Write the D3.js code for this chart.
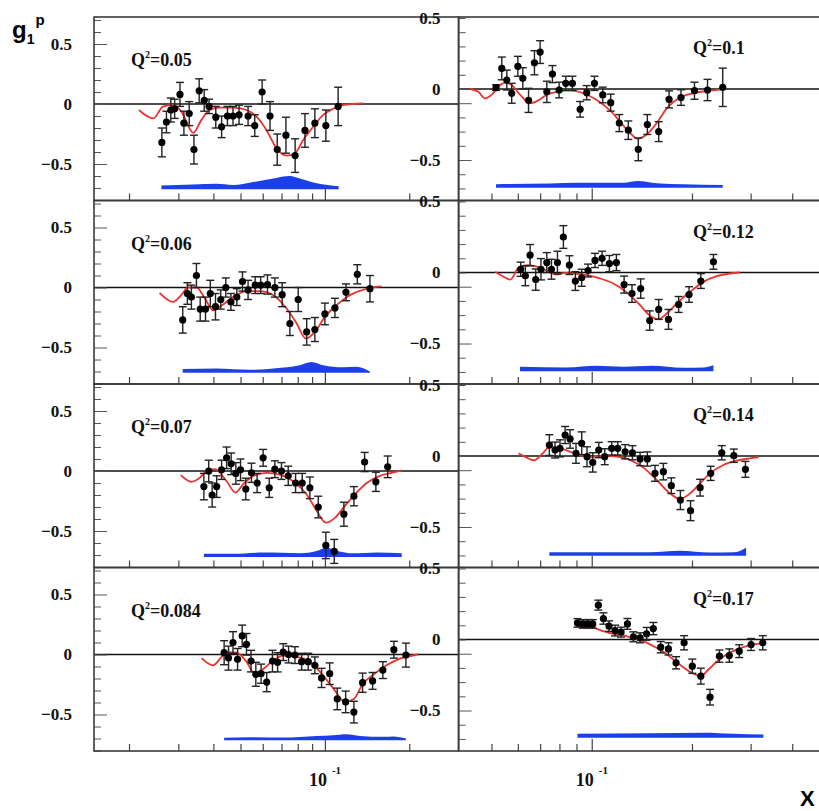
<!DOCTYPE html>
<html>
<head>
<meta charset="utf-8">
<script src="https://cdn.jsdelivr.net/npm/d3@7"></script>
<style>
  body { margin: 0; background: #fff; }
  svg text { font-family: "Liberation Serif", "Times New Roman", serif; font-weight: bold; }
  svg text.sans { font-family: "Liberation Sans", Arial, sans-serif; }
</style>
</head>
<body>
<svg id="chart" width="819" height="811"></svg>
<script>
// Q^2 of each panel, row by row (left, right)
let q2Labels = ["0.05", "0.1", "0.06", "0.12", "0.07", "0.14", "0.084", "0.17"];

// data points: [x, g1p, stat error]
let data005 = [[0.0262,-0.32,0.12],[0.0272,-0.15,0.09],[0.0282,-0.05,0.10],[0.0291,-0.04,0.08],[0.0304,0.08,0.10],[0.0314,-0.16,0.10],[0.0328,-0.08,0.10],[0.0341,-0.38,0.12],[0.0356,0.11,0.10],[0.0371,0.03,0.09],[0.0386,-0.02,0.06],[0.0408,-0.11,0.09],[0.0428,-0.19,0.09],[0.0449,-0.10,0.08],[0.0470,-0.10,0.08],[0.0494,-0.09,0.08],[0.0532,-0.10,0.08],[0.0562,-0.18,0.09],[0.0597,0.10,0.10],[0.0637,-0.10,0.12],[0.0676,-0.38,0.13],[0.0726,-0.26,0.15],[0.0783,-0.43,0.14],[0.0849,-0.22,0.14],[0.0921,-0.16,0.12],[0.1008,-0.18,0.13],[0.1115,-0.02,0.16]];
let data01 = [[0.0516,0.01,0.02],[0.0537,0.145,0.08],[0.0556,0.063,0.07],[0.0575,-0.03,0.07],[0.0600,0.16,0.07],[0.0621,0.075,0.075],[0.0646,-0.08,0.085],[0.0673,0.185,0.085],[0.0700,0.26,0.08],[0.0733,-0.02,0.075],[0.0762,0.105,0.06],[0.0798,-0.007,0.055],[0.0836,0.04,0.05],[0.0875,0.04,0.05],[0.0923,-0.143,0.055],[0.0966,-0.026,0.05],[0.1019,0.04,0.05],[0.1079,-0.042,0.055],[0.1140,-0.096,0.06],[0.1210,-0.24,0.06],[0.1288,-0.29,0.065],[0.1380,-0.425,0.08],[0.1469,-0.25,0.07],[0.1589,-0.30,0.07],[0.1707,-0.073,0.06],[0.1854,-0.06,0.055],[0.2035,-0.012,0.06],[0.2227,-0.007,0.075],[0.2474,0.012,0.135]];
let data006 = [[0.0311,-0.27,0.11],[0.0323,-0.05,0.09],[0.0334,-0.08,0.10],[0.0348,0.10,0.10],[0.0359,-0.18,0.10],[0.0375,-0.18,0.10],[0.0390,-0.05,0.11],[0.0407,-0.16,0.11],[0.0425,-0.10,0.08],[0.0443,0.0,0.08],[0.0462,-0.12,0.07],[0.0485,-0.08,0.07],[0.0508,0.05,0.08],[0.0532,-0.02,0.08],[0.0564,0.02,0.07],[0.0590,0.02,0.07],[0.0624,0.025,0.08],[0.0663,0.0,0.08],[0.0704,-0.06,0.10],[0.0750,-0.30,0.10],[0.0803,-0.10,0.10],[0.0861,-0.37,0.11],[0.0921,-0.35,0.10],[0.1000,-0.22,0.09],[0.1086,-0.17,0.08],[0.1189,-0.04,0.07],[0.1305,0.11,0.08],[0.1448,-0.01,0.11]];
let data012 = [[0.0612,0.023,0.05],[0.0632,-0.023,0.07],[0.0653,0.122,0.075],[0.0679,-0.05,0.075],[0.0704,0.023,0.075],[0.0733,0.07,0.07],[0.0757,0.023,0.07],[0.0789,0.07,0.08],[0.0822,0.25,0.08],[0.0857,0.052,0.066],[0.0893,-0.06,0.066],[0.0933,-0.037,0.06],[0.0975,0.014,0.045],[0.1023,0.085,0.05],[0.1074,0.10,0.05],[0.1130,0.063,0.057],[0.1186,0.07,0.057],[0.1251,-0.085,0.06],[0.1321,-0.148,0.062],[0.1403,-0.113,0.068],[0.1493,-0.338,0.068],[0.1589,-0.26,0.07],[0.1700,-0.33,0.07],[0.1824,-0.225,0.056],[0.1960,-0.155,0.055],[0.2126,-0.06,0.052],[0.2320,0.075,0.052]];
let data007 = [[0.0370,-0.13,0.11],[0.0385,0.0,0.09],[0.0396,-0.20,0.10],[0.0411,-0.13,0.09],[0.0428,0.01,0.08],[0.0446,0.11,0.09],[0.0463,0.06,0.09],[0.0481,-0.02,0.09],[0.0500,0.01,0.09],[0.0522,-0.15,0.09],[0.0547,-0.015,0.08],[0.0573,-0.10,0.08],[0.0602,0.11,0.07],[0.0633,-0.14,0.08],[0.0663,0.015,0.07],[0.0700,0.0,0.07],[0.0740,-0.04,0.08],[0.0786,-0.10,0.08],[0.0830,-0.10,0.08],[0.0884,-0.14,0.09],[0.0947,-0.30,0.09],[0.1008,-0.62,0.11],[0.1080,-0.67,0.10],[0.1169,-0.36,0.10],[0.1269,-0.21,0.08],[0.1386,0.075,0.08],[0.1520,-0.09,0.08],[0.1675,0.035,0.09]];
let data014 = [[0.0746,0.077,0.073],[0.0776,0.042,0.056],[0.0803,0.054,0.06],[0.0832,0.148,0.06],[0.0861,0.12,0.065],[0.0897,0.019,0.07],[0.0933,0.09,0.08],[0.0968,-0.005,0.07],[0.1007,-0.045,0.068],[0.1050,0.042,0.054],[0.1094,-0.005,0.056],[0.1148,0.054,0.047],[0.1197,0.054,0.047],[0.1260,0.03,0.05],[0.1325,0.023,0.05],[0.1397,-0.021,0.047],[0.1469,-0.021,0.05],[0.1549,-0.122,0.056],[0.1641,-0.11,0.058],[0.1734,-0.209,0.055],[0.1846,-0.31,0.067],[0.1980,-0.385,0.07],[0.2116,-0.223,0.059],[0.2276,-0.122,0.05],[0.2457,0.023,0.05],[0.2671,0.002,0.047],[0.2894,-0.094,0.056]];
let data0084 = [[0.0437,0.015,0.10],[0.0453,-0.03,0.10],[0.0470,0.10,0.09],[0.0488,-0.04,0.09],[0.0507,0.155,0.09],[0.0525,0.085,0.09],[0.0545,-0.055,0.09],[0.0567,-0.165,0.10],[0.0592,-0.16,0.08],[0.0620,-0.23,0.08],[0.0650,-0.055,0.09],[0.0678,-0.065,0.08],[0.0710,0.02,0.07],[0.0742,0.0,0.07],[0.0782,-0.005,0.07],[0.0826,-0.06,0.07],[0.0872,-0.06,0.07],[0.0921,-0.09,0.07],[0.0973,-0.195,0.08],[0.1040,-0.16,0.09],[0.1107,-0.37,0.09],[0.1186,-0.395,0.09],[0.1269,-0.48,0.09],[0.1363,-0.235,0.08],[0.1480,-0.22,0.07],[0.1610,-0.13,0.07],[0.1763,0.04,0.07],[0.1946,-0.005,0.10]];
let data017 = [[0.0906,0.117,0.03],[0.0940,0.11,0.03],[0.0973,0.11,0.03],[0.1007,0.11,0.03],[0.1047,0.242,0.035],[0.1084,0.148,0.04],[0.1127,0.094,0.037],[0.1175,0.063,0.038],[0.1225,0.052,0.035],[0.1280,0.11,0.038],[0.1334,0.019,0.035],[0.1397,0.012,0.035],[0.1462,0.04,0.045],[0.1531,0.077,0.043],[0.1611,-0.054,0.04],[0.1700,-0.066,0.043],[0.1792,-0.164,0.043],[0.1894,-0.023,0.05],[0.2005,-0.188,0.05],[0.2126,-0.258,0.056],[0.2266,-0.406,0.055],[0.2418,-0.117,0.043],[0.2589,-0.113,0.047],[0.2773,-0.082,0.045],[0.3010,-0.035,0.042],[0.3263,-0.023,0.05]];

// model curves (red): [x, g1p]
let model005 = [[0.0217,-0.05],[0.0244,-0.12],[0.0265,-0.02],[0.0287,-0.01],[0.0308,-0.065],[0.0339,-0.24],[0.0363,-0.13],[0.0388,-0.05],[0.0422,-0.03],[0.047,-0.03],[0.0525,-0.05],[0.057,-0.105],[0.062,-0.22],[0.0672,-0.37],[0.073,-0.43],[0.0782,-0.41],[0.0837,-0.30],[0.0908,-0.19],[0.0986,-0.09],[0.107,-0.04],[0.116,-0.01],[0.126,0.0],[0.137,0.005]];
let model01 = [[0.0431,0.0],[0.0457,-0.02],[0.0478,-0.066],[0.0501,-0.04],[0.0525,0.016],[0.0549,0.045],[0.0575,0.028],[0.0609,-0.04],[0.0653,-0.10],[0.0692,-0.08],[0.0733,-0.04],[0.0785,-0.02],[0.0861,-0.01],[0.0944,-0.03],[0.1035,-0.077],[0.1135,-0.15],[0.1216,-0.23],[0.1304,-0.31],[0.1371,-0.35],[0.1462,-0.32],[0.1567,-0.24],[0.168,-0.136],[0.184,-0.06],[0.2019,-0.03],[0.2214,-0.014],[0.2457,-0.002]];
let model006 = [[0.0257,-0.045],[0.0287,-0.12],[0.0308,-0.06],[0.0325,0.0],[0.0348,0.0],[0.0373,-0.09],[0.0399,-0.19],[0.0428,-0.15],[0.047,-0.08],[0.0525,-0.03],[0.0586,-0.03],[0.0654,-0.064],[0.073,-0.175],[0.0793,-0.30],[0.0856,-0.425],[0.0921,-0.37],[0.1,-0.245],[0.1101,-0.147],[0.1211,-0.072],[0.1334,-0.028],[0.1468,0.0],[0.1594,0.01]];
let model012 = [[0.0513,0.005],[0.0537,-0.023],[0.0569,-0.05],[0.0603,0.033],[0.0638,0.052],[0.0676,0.045],[0.0716,0.023],[0.075,0.0],[0.0785,-0.014],[0.0832,-0.002],[0.0891,-0.007],[0.0966,-0.019],[0.1059,-0.042],[0.1161,-0.077],[0.1274,-0.14],[0.1397,-0.23],[0.1497,-0.305],[0.1585,-0.329],[0.168,-0.289],[0.18,-0.218],[0.1975,-0.136],[0.2165,-0.066],[0.2373,-0.026],[0.26,-0.007],[0.2786,0.0]];
let model007 = [[0.0306,-0.035],[0.0334,-0.09],[0.0358,-0.055],[0.0378,0.0],[0.0405,0.015],[0.0446,-0.085],[0.048,-0.18],[0.0511,-0.11],[0.0555,-0.04],[0.062,-0.015],[0.0691,-0.03],[0.0771,-0.085],[0.0861,-0.195],[0.0934,-0.33],[0.1008,-0.43],[0.1086,-0.39],[0.1179,-0.29],[0.128,-0.195],[0.141,-0.10],[0.157,-0.04],[0.173,-0.015],[0.188,0.005]];
let model014 = [[0.0603,0.019],[0.0638,-0.012],[0.0671,-0.03],[0.0708,0.012],[0.075,0.066],[0.0803,0.054],[0.0861,0.03],[0.0923,0.007],[0.0989,-0.007],[0.1084,0.002],[0.1189,-0.005],[0.1304,-0.028],[0.1429,-0.082],[0.1567,-0.169],[0.1718,-0.263],[0.184,-0.303],[0.1975,-0.263],[0.2116,-0.192],[0.2266,-0.122],[0.2485,-0.063],[0.2727,-0.033],[0.299,-0.016],[0.3168,-0.007]];
let model0084 = [[0.0363,-0.03],[0.0399,-0.09],[0.0428,-0.02],[0.0451,0.02],[0.0484,0.015],[0.0525,-0.06],[0.0562,-0.16],[0.0602,-0.12],[0.0654,-0.05],[0.071,-0.01],[0.0793,-0.02],[0.0884,-0.06],[0.0973,-0.16],[0.107,-0.28],[0.1179,-0.395],[0.1269,-0.37],[0.137,-0.24],[0.1487,-0.17],[0.166,-0.09],[0.1853,-0.035],[0.2152,0.0]];
let model017 = [[0.0901,0.094],[0.0944,0.087],[0.0989,0.087],[0.1035,0.075],[0.1084,0.059],[0.1161,0.04],[0.1245,0.03],[0.1334,0.007],[0.1429,-0.012],[0.1531,-0.047],[0.1641,-0.087],[0.1759,-0.141],[0.1883,-0.195],[0.1997,-0.235],[0.2126,-0.258],[0.2241,-0.211],[0.2373,-0.157],[0.254,-0.106],[0.2727,-0.07],[0.299,-0.04],[0.3278,-0.023]];

// systematic error bands (blue): [x, top of band], drawn down to bandBase
let band005 = [[0.0261,-0.68],[0.0339,-0.67],[0.041,-0.665],[0.047,-0.675],[0.0555,-0.65],[0.0654,-0.62],[0.075,-0.60],[0.0814,-0.62],[0.0934,-0.66],[0.112,-0.685]];
let band01 = [[0.0516,-0.67],[0.075,-0.665],[0.0901,-0.66],[0.1059,-0.66],[0.1245,-0.66],[0.138,-0.648],[0.1567,-0.664],[0.1883,-0.671],[0.2474,-0.676]];
let band006 = [[0.0311,-0.68],[0.041,-0.675],[0.054,-0.686],[0.071,-0.667],[0.0814,-0.647],[0.0896,-0.62],[0.0986,-0.647],[0.116,-0.664],[0.1298,-0.66],[0.1448,-0.70]];
let band012 = [[0.0609,-0.664],[0.0841,-0.669],[0.1035,-0.657],[0.1245,-0.664],[0.1514,-0.657],[0.1883,-0.671],[0.2165,-0.669],[0.232,-0.653]];
let band007 = [[0.037,-0.69],[0.047,-0.69],[0.0602,-0.68],[0.0814,-0.686],[0.0934,-0.667],[0.1014,-0.64],[0.1101,-0.664],[0.126,-0.686],[0.153,-0.678],[0.188,-0.686]];
let band014 = [[0.0746,-0.678],[0.1059,-0.678],[0.1497,-0.678],[0.184,-0.667],[0.2266,-0.68],[0.2664,-0.678],[0.2786,-0.669],[0.2908,-0.645]];
let band0084 = [[0.0437,-0.694],[0.054,-0.689],[0.071,-0.692],[0.0934,-0.678],[0.107,-0.672],[0.1195,-0.664],[0.1334,-0.678],[0.1615,-0.686],[0.1754,-0.683],[0.1946,-0.70]];
let band017 = [[0.0906,-0.664],[0.1497,-0.66],[0.2165,-0.657],[0.2664,-0.664],[0.3278,-0.669]];
let bandBase = [-0.71, -0.695, -0.71, -0.695, -0.717, -0.702, -0.714, -0.692];

let allData = [data005, data01, data006, data012, data007, data014, data0084, data017];
let allModels = [model005, model01, model006, model012, model007, model014, model0084, model017];
let allBands = [band005, band01, band006, band012, band007, band014, band0084, band017];

// layout
let rowTop = 17, rowH = 183.5;
let colLeft = [94, 458.6], colRight = [458.6, 824.5];

let svg = d3.select("#chart");

// x scales: one per column
let xScales = [
    d3.scaleLog().domain([0.015, 0.3]).range([94, 458.6]),
    d3.scaleLog().domain([0.04, 0.5]).range([459.2, 824.5])
];

q2Labels.forEach((label, i) => {
    let col = i % 2, row = Math.floor(i / 2);
    let top = rowTop + row * rowH, bottom = top + rowH;
    let x = xScales[col];
    let x0 = colLeft[col], x1 = colRight[col];

    // y scale differs between left and right column
    let y = col === 0
        ? d3.scaleLinear().domain([-0.804, 0.725]).range([bottom, top])
        : d3.scaleLinear().domain([-0.785, 0.507]).range([bottom, top]);

    let g = svg.append("g");

    // systematic band
    let area = d3.area()
        .x(d => x(d[0]))
        .y0(y(bandBase[i]))
        .y1(d => y(d[1]))
        .curve(d3.curveMonotoneX);
    g.append("path")
        .datum(allBands[i])
        .attr("d", area)
        .attr("fill", "#1d3fea");

    // zero line
    g.append("line")
        .attr("x1", x0).attr("x2", x1)
        .attr("y1", y(0)).attr("y2", y(0))
        .attr("stroke", "#111")
        .attr("stroke-width", 1.5);

    // model curve
    let line = d3.line()
        .x(d => x(d[0]))
        .y(d => y(d[1]))
        .curve(d3.curveMonotoneX);
    g.append("path")
        .datum(allModels[i])
        .attr("d", line)
        .attr("fill", "none")
        .attr("stroke", "#e8342f")
        .attr("stroke-width", 1.8);

    // error bars
    let bars = g.append("g").attr("stroke", "#222").attr("stroke-width", 1.4);
    bars.selectAll(".ev").data(allData[i]).join("line")
        .attr("x1", d => x(d[0])).attr("x2", d => x(d[0]))
        .attr("y1", d => y(d[1] + d[2])).attr("y2", d => y(d[1] - d[2]));
    bars.selectAll(".ct").data(allData[i]).join("line")
        .attr("x1", d => x(d[0]) - 4).attr("x2", d => x(d[0]) + 4)
        .attr("y1", d => y(d[1] + d[2])).attr("y2", d => y(d[1] + d[2]));
    bars.selectAll(".cb").data(allData[i]).join("line")
        .attr("x1", d => x(d[0]) - 4).attr("x2", d => x(d[0]) + 4)
        .attr("y1", d => y(d[1] - d[2])).attr("y2", d => y(d[1] - d[2]));

    // points
    g.selectAll("circle").data(allData[i]).join("circle")
        .attr("cx", d => x(d[0]))
        .attr("cy", d => y(d[1]))
        .attr("r", 3.6)
        .attr("fill", "#000");

    // Q^2 label
    let qt = g.append("text")
        .attr("x", col === 0 ? 131 : 693)
        .attr("y", top + (col === 0 ? 49 : 37))
        .attr("font-size", 18)
        .attr("fill", "#111");
    qt.append("tspan").text("Q");
    qt.append("tspan").attr("font-size", 10).attr("dy", -8).text("2");
    qt.append("tspan").attr("dy", 8).text("=" + label);

    // y tick labels
    let labelAxis = d3.axisLeft(y)
        .tickValues([0.5, 0, -0.5])
        .tickSize(0)
        .tickPadding(col === 0 ? 22 : 18)
        .tickFormat(d3.format(""));
    let la = g.append("g")
        .attr("transform", `translate(${x0},0)`)
        .call(labelAxis);
    la.select(".domain").remove();
    la.selectAll("text")
        .attr("font-size", 17)
        .attr("fill", "#111");

    // y ticks (pointing inward)
    let yMinor, yMajor;
    if (col === 0) {
        yMinor = d3.range(-8, 8).map(v => v / 10).filter(v => Math.abs(v * 2) % 1 !== 0);
        yMajor = [0.5, 0, -0.5];
    } else {
        yMinor = d3.range(-7, 6).map(v => v / 10).filter(v => v !== -0.1 && v !== -0.5);
        yMajor = [-0.1, -0.5];
    }
    [[yMinor, 7], [yMajor, 13]].forEach(([vals, len]) => {
        let ax = g.append("g")
            .attr("transform", `translate(${x0},0)`)
            .call(d3.axisRight(y).tickValues(vals).tickSize(len).tickFormat(""));
        ax.select(".domain").remove();
        ax.selectAll("line").attr("stroke", "#555").attr("stroke-width", 1);
    });

    // x ticks on bottom edge, pointing up
    let xMinor = col === 0
        ? [0.02, 0.03, 0.04, 0.05, 0.06, 0.07, 0.08, 0.09, 0.2]
        : [0.05, 0.06, 0.07, 0.08, 0.09, 0.2, 0.3, 0.4];
    [[xMinor, 7], [[0.1], 12]].forEach(([vals, len]) => {
        let ax = g.append("g")
            .attr("transform", `translate(0,${bottom})`)
            .call(d3.axisTop(x).tickValues(vals).tickSize(len).tickFormat(""));
        ax.select(".domain").remove();
        ax.selectAll("line").attr("stroke", "#444").attr("stroke-width", 1.2);
    });

    // frame
    g.append("rect")
        .attr("x", x0).attr("y", top)
        .attr("width", x1 - x0).attr("height", rowH)
        .attr("fill", "none")
        .attr("stroke", "#3a3a3a")
        .attr("stroke-width", 1.6);
});

// x axis labels "10^-1" under each column
xScales.forEach(x => {
    let t = svg.append("text")
        .attr("x", x(0.1) - 16)
        .attr("y", 786)
        .attr("font-size", 18)
        .attr("fill", "#111");
    t.append("tspan").text("10");
    t.append("tspan").attr("font-size", 11).attr("dx", 5).attr("dy", -12).text("-1");
});

// y title g1^p (kept horizontal: rotated text is not rendered here)
let yt = svg.append("text")
    .attr("class", "sans")
    .attr("x", 12)
    .attr("y", 38)
    .attr("font-size", 24)
    .attr("fill", "#000");
yt.append("tspan").text("g");
yt.append("tspan").attr("font-size", 14).attr("dy", 6).text("1");
yt.append("tspan").attr("font-size", 15).attr("dx", 1).attr("dy", -19).text("p");

// x title
svg.append("text")
    .attr("class", "sans")
    .attr("x", 800)
    .attr("y", 806)
    .attr("font-size", 22)
    .attr("fill", "#000")
    .text("X");
</script>
</body>
</html>
